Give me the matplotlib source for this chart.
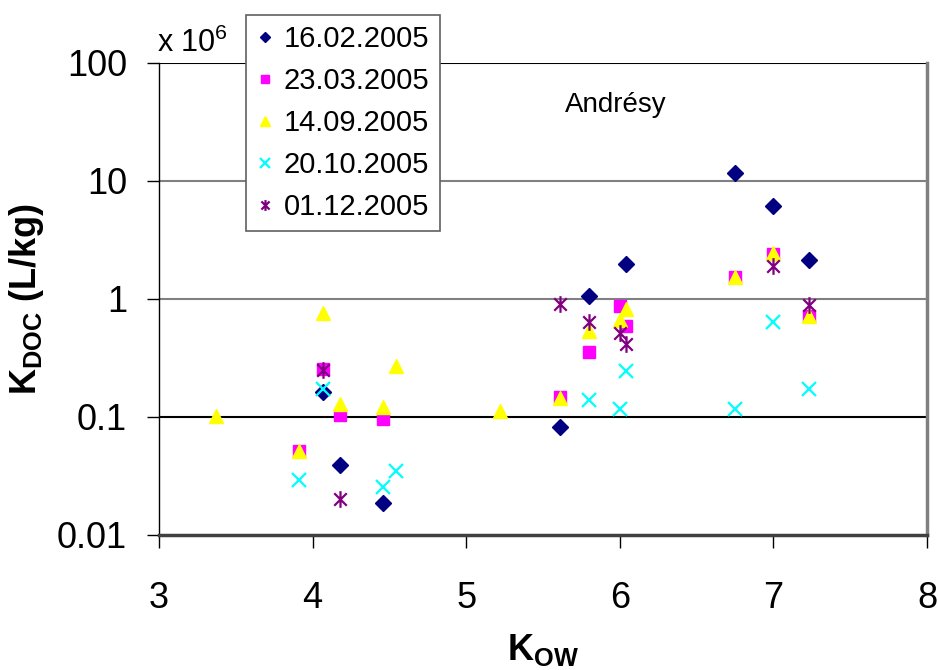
import numpy as np
import matplotlib
matplotlib.use('Agg')
import matplotlib.pyplot as plt
from matplotlib.path import Path

plt.rcParams['font.family'] = ['Liberation Sans', 'DejaVu Sans']
plt.rcParams['mathtext.fontset'] = 'custom'
plt.rcParams['mathtext.rm'] = 'Liberation Sans'
plt.rcParams['mathtext.bf'] = 'Liberation Sans:bold'

# Kdoc (x 10^6 L/kg) against Kow, one series per sampling date
dates = ['16.02.2005', '23.03.2005', '14.09.2005', '20.10.2005', '01.12.2005']

kow_feb = [4.07, 4.18, 4.46, 5.61, 5.80, 6.04, 6.75, 7.00, 7.23]
kdoc_feb = [0.163, 0.0393, 0.0187, 0.082, 1.06, 1.97, 11.6, 6.14, 2.14]

kow_mar = [3.91, 4.07, 4.18, 4.46, 5.61, 5.80, 6.00, 6.04, 6.75, 7.00, 7.23]
kdoc_mar = [0.051, 0.257, 0.1037, 0.0967, 0.1475, 0.358, 0.869, 0.587, 1.54, 2.40, 0.714]

kow_sep = [3.37, 3.91, 4.07, 4.18, 4.46, 4.54, 5.22, 5.61, 5.80, 6.00, 6.04, 6.75, 7.00, 7.23]
kdoc_sep = [0.1017, 0.051, 0.768, 0.1296, 0.121, 0.270, 0.112, 0.1456, 0.533, 0.66, 0.819,
            1.54, 2.43, 0.714]

kow_oct = [3.91, 4.07, 4.46, 4.54, 5.80, 6.00, 6.04, 6.75, 7.00, 7.23]
kdoc_oct = [0.0295, 0.174, 0.0254, 0.0352, 0.140, 0.1175, 0.245, 0.1175, 0.639, 0.174]

kow_dec = [4.07, 4.18, 5.61, 5.80, 6.00, 6.04, 7.00, 7.23]
kdoc_dec = [0.248, 0.0202, 0.903, 0.639, 0.515, 0.419, 1.91, 0.886]

x_ticks = [3, 4, 5, 6, 7, 8]
y_ticks = [0.01, 0.1, 1, 10, 100]
y_ticklabels = ['0.01', '0.1', '1', '10', '100']

# asterisk: x with a vertical bar
star = Path([(0, -1), (0, 1), (-0.75, -0.75), (0.75, 0.75), (-0.75, 0.75), (0.75, -0.75)],
            [Path.MOVETO, Path.LINETO, Path.MOVETO, Path.LINETO, Path.MOVETO, Path.LINETO])

series = [
    (kow_feb, kdoc_feb, dict(marker='D', color='#000080', ms=8.5)),
    (kow_mar, kdoc_mar, dict(marker='s', color='#FF00FF', ms=8)),
    (kow_sep, kdoc_sep, dict(marker='^', color='#FFFF00', ms=10)),
    (kow_oct, kdoc_oct, dict(marker='x', color='#00FFFF', ms=10.5, mew=1.6)),
    (kow_dec, kdoc_dec, dict(marker=star, color='#800080', mfc='none', ms=12, mew=1.6)),
]

fig = plt.figure(figsize=(9.38, 6.7), dpi=100)
ax = fig.add_axes([0.1695, 0.2015, 0.8188, 0.7045])

for (xs, ys, st), lab in zip(series, dates):
    ax.plot(xs, ys, ls='none', label=lab, clip_on=False, **st)

ax.set_yscale('log')
ax.set_xlim(3, 8)
ax.set_ylim(0.01, 100)
ax.set_xticks(x_ticks)
ax.set_xticklabels([str(t) for t in x_ticks])
ax.set_yticks(y_ticks)
ax.set_yticklabels(y_ticklabels)
ax.minorticks_off()
ax.tick_params(axis='both', labelsize=26, length=9, width=1)
ax.tick_params(axis='y', pad=14)
ax.tick_params(axis='x', pad=24)

# horizontal rules at each decade, colours as drawn
line_cols = ['#404040', 'black', '#808080', '#808080', 'black']
for yv, c in zip(y_ticks[1:], line_cols[1:]):
    ax.axhline(yv, color=c, lw=1.5, zorder=0.5)
for tk, c in zip(ax.yaxis.get_major_ticks(), line_cols):
    tk.tick1line.set_color(c)
for tk in ax.xaxis.get_major_ticks():
    tk.tick1line.set_color('#404040')

ax.spines['top'].set_visible(False)
ax.spines['left'].set_color('black')
ax.spines['left'].set_linewidth(1)
ax.spines['bottom'].set_color('#404040')
ax.spines['bottom'].set_linewidth(2.5)
ax.spines['right'].set_color('#808080')
ax.spines['right'].set_linewidth(2.5)

ax.set_xlabel(r'K$_{\mathbf{OW}}$', fontsize=26, fontweight='bold', labelpad=12)
ax.set_ylabel(r'K$_{\mathbf{DOC}}$ (L/kg)', fontsize=26, fontweight='bold', labelpad=8)

ax.text(0.595, 0.911, 'Andrésy', transform=ax.transAxes, fontsize=20, ha='center', va='center')
fig.text(157 / 938, 1 - 52 / 670, r'x 10$^{6}$', fontsize=22, ha='left', va='baseline')

leg = ax.legend(loc='upper left', bbox_to_anchor=(246 / 938, 1 - 14.7 / 670),
                bbox_transform=fig.transFigure, fontsize=21, frameon=True, fancybox=False,
                edgecolor='#606060', framealpha=1, borderaxespad=0, borderpad=0.35,
                handlelength=0.6, handletextpad=0.35, labelspacing=0.48, markerscale=0.65,
                numpoints=1)
leg.get_frame().set_linewidth(1.2)

fig.savefig('out.png', dpi=100)
